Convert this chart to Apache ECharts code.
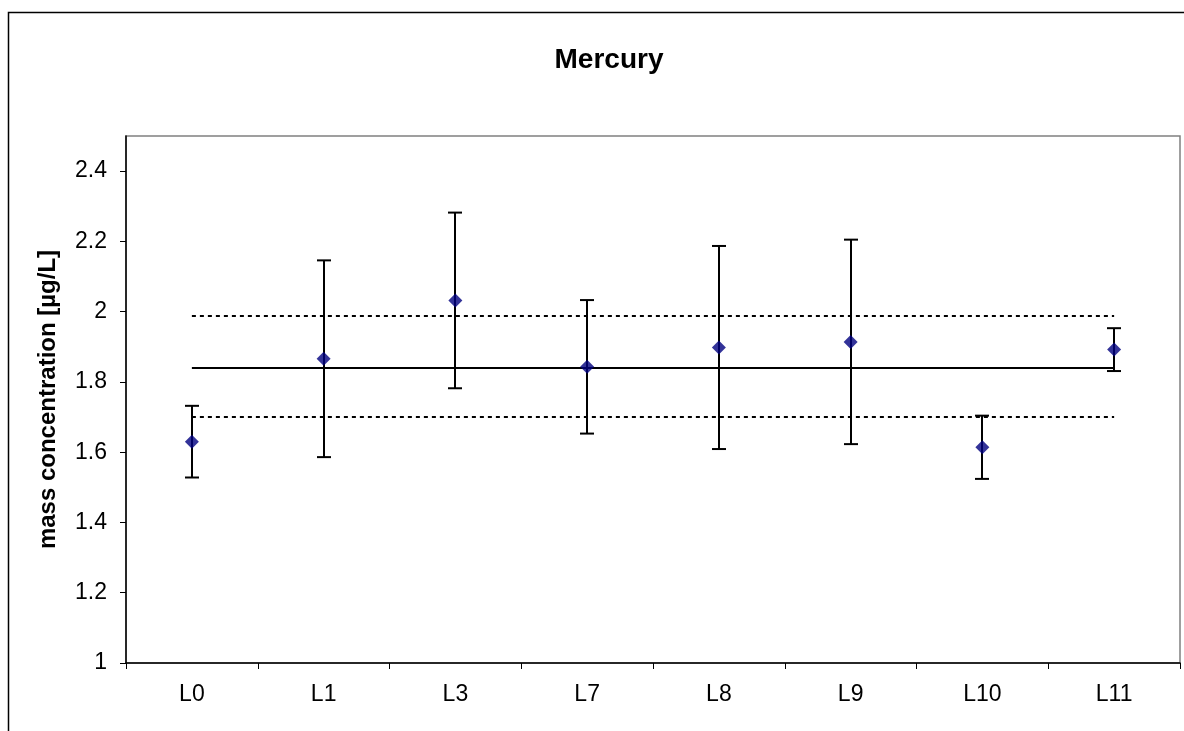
<!DOCTYPE html>
<html>
<head>
<meta charset="utf-8">
<script src="https://cdn.jsdelivr.net/npm/echarts@6/dist/echarts.min.js"></script>
<style>html,body{margin:0;padding:0;background:#fff}#c{width:1184px;height:731px}</style>
</head>
<body>
<div id="c"></div>
<script>
var categories = ['L0', 'L1', 'L3', 'L7', 'L8', 'L9', 'L10', 'L11'];
var means = [1.63, 1.866, 2.032, 1.843, 1.898, 1.914, 1.614, 1.892];
var errors = [0.102, 0.28, 0.25, 0.19, 0.289, 0.291, 0.09, 0.061];
var refMean = 1.839;
var refUpper = 1.987;
var refLower = 1.702;
var yTicks = [1, 1.2, 1.4, 1.6, 1.8, 2, 2.2, 2.4];

var chart = echarts.init(document.getElementById('c'));
var errData = categories.map(function (c, i) { return [i, means[i] - errors[i], means[i] + errors[i]]; });
var font = 'Liberation Sans, Arial, sans-serif';

function refLine(v, dashed) {
  var ls = { color: '#000', width: 2, type: dashed ? [4, 4] : 'solid' };
  return [{ coord: [categories[0], v], lineStyle: ls }, { coord: [categories[categories.length - 1], v], lineStyle: ls }];
}

chart.setOption({
  animation: false,
  backgroundColor: '#fff',
  title: {
    text: 'Mercury', left: 604, top: 41, textAlign: 'center',
    textStyle: { fontFamily: font, fontSize: 28, fontWeight: 'bold', color: '#000' }
  },
  graphic: [{
    type: 'rect', shape: { x: 8.5, y: 12.5, width: 1300, height: 800 },
    style: { fill: 'none', stroke: '#000', lineWidth: 1.5 }, silent: true, z: 100
  }],
  grid: { left: 126, top: 136, right: 4, bottom: 68, show: true, borderColor: '#808080', borderWidth: 1.5, backgroundColor: '#fff' },
  xAxis: {
    type: 'category', data: categories, boundaryGap: true,
    axisLine: { lineStyle: { color: '#000', width: 1.5 } },
    axisTick: { show: true, alignWithLabel: false, length: 6, lineStyle: { color: '#000' }, inside: false },
    axisLabel: { fontFamily: font, fontSize: 23, color: '#000', margin: 20 },
    splitLine: { show: false }
  },
  yAxis: {
    type: 'value', min: 1, max: 2.5, interval: 0.2,
    name: 'mass concentration [µg/L]', nameLocation: 'middle', nameGap: 66,
    nameTextStyle: { fontFamily: font, fontSize: 24, fontWeight: 'bold', color: '#000' },
    axisLine: { show: true, lineStyle: { color: '#000', width: 1.5 } },
    axisTick: { show: true, length: 6, lineStyle: { color: '#000' } },
    axisLabel: { fontFamily: font, fontSize: 23, color: '#000', margin: 19, showMaxLabel: false,
      formatter: function (v) { var r = Math.round(v * 10) / 10; return yTicks.indexOf(r) >= 0 ? String(r) : ''; } },
    splitLine: { show: false }
  },
  series: [
    {
      type: 'line', data: [], silent: true,
      markLine: {
        symbol: 'none', silent: true, label: { show: false },
        data: [refLine(refMean, false), refLine(refUpper, true), refLine(refLower, true)]
      },
      z: 2
    },
    {
      type: 'custom', data: errData, z: 3, silent: true,
      renderItem: function (params, api) {
        var lo = api.coord([api.value(0), api.value(1)]);
        var hi = api.coord([api.value(0), api.value(2)]);
        var x = Math.round(lo[0]), hw = 7;
        var st = { stroke: '#000', lineWidth: 2 };
        return { type: 'group', children: [
          { type: 'line', shape: { x1: x, y1: hi[1], x2: x, y2: lo[1] }, style: st },
          { type: 'line', shape: { x1: x - hw, y1: hi[1], x2: x + hw, y2: hi[1] }, style: st },
          { type: 'line', shape: { x1: x - hw, y1: lo[1], x2: x + hw, y2: lo[1] }, style: st }
        ] };
      }
    },
    {
      type: 'scatter', data: means, symbol: 'diamond', symbolSize: 14, z: 5,
      itemStyle: { color: '#000080' }
    }
  ]
});
</script>
</body>
</html>
